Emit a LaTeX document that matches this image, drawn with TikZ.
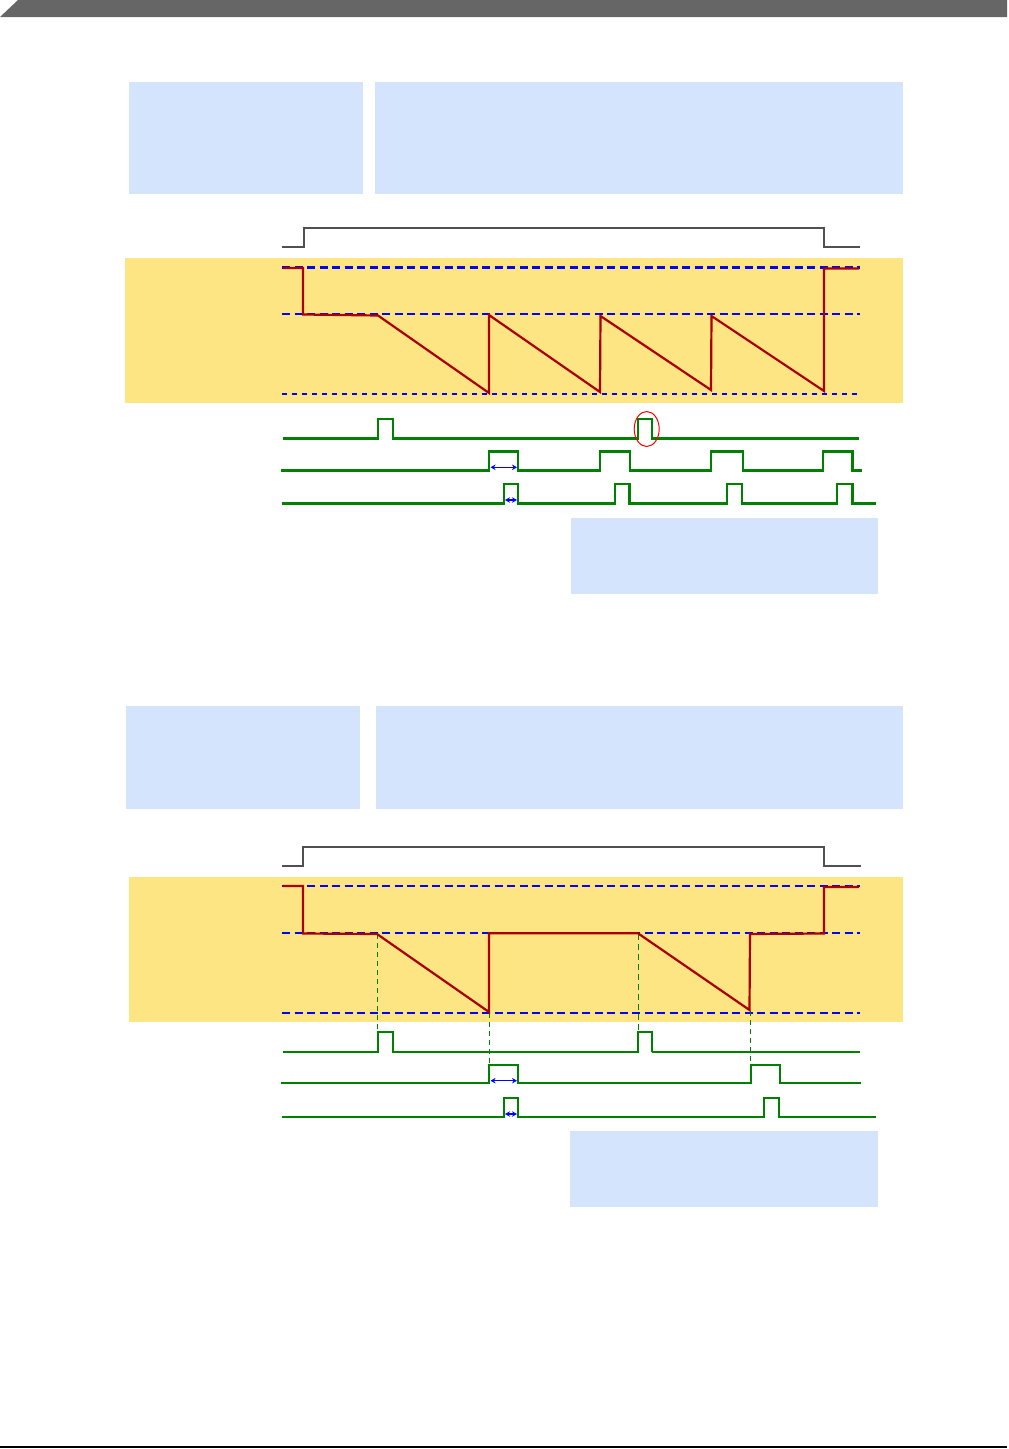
\documentclass[tikz,border=0pt]{standalone}
\usetikzlibrary{arrows.meta}
\definecolor{hdr}{HTML}{666666}
\definecolor{boxblue}{HTML}{D5E4FD}
\definecolor{band}{HTML}{FDE584}
\definecolor{wred}{HTML}{AA0000}
\definecolor{wgreen}{HTML}{008000}
\definecolor{gate}{HTML}{505050}
\tikzset{
  infobox/.style={fill=boxblue,draw=none},
  bandbox/.style={fill=band,draw=none},
  level/.style={draw=blue,line width=2.2pt,dash pattern=on 8pt off 4.5pt},
  levellow/.style={draw=blue,line width=1.4pt,dash pattern=on 5pt off 5pt},
  gatesig/.style={draw=gate,line width=2pt},
  vsig/.style={draw=wred,line width=2.2pt,line join=miter},
  pulse/.style={draw=wgreen,line width=2.2pt},
  pulsethin/.style={draw=wgreen,line width=1.3pt},
  guide/.style={draw=wgreen,line width=0.9pt,dash pattern=on 5pt off 4pt},
  guidebold/.style={draw=wgreen,line width=1.6pt,dash pattern=on 6pt off 4pt},
  dur/.style={draw=blue,line width=1.2pt,{Stealth[length=5pt,width=5.5pt]}-{Stealth[length=5pt,width=5.5pt]}},
}
\begin{document}
\begin{tikzpicture}[x=1pt,y=-1pt]
\useasboundingbox (0,0) rectangle (1009,1449);
% header bar and footer rule
\fill[hdr] (0,17) -- (18,0) -- (1007,0) -- (1007,17) -- cycle;
\draw[black,line width=2pt] (0,1447) -- (1007,1447);

% ================= upper diagram =================
\path[infobox] (129,82) rectangle (363,194);
\path[infobox] (375,82) rectangle (903,194);
\path[bandbox] (125,258) rectangle (903,403);
\path[infobox] (571,518) rectangle (878,594);

\draw[gatesig] (282,247) -- (303.5,247) -- (303.5,228) -- (824,228) -- (824,247) -- (860,247);

\draw[level] (282,267.5) -- (860,267.5);
\draw[level] (282,314) -- (860,314);
\draw[levellow] (282,394) -- (860,394);

\draw[vsig] (283,268) -- (303,268) -- (303,314.5) -- (378,315.5) -- (489,393)
  -- (489,315) -- (600,392) -- (600.5,316) -- (711,390) -- (711.5,316)
  -- (824,391) -- (824,268.5) -- (859,268.5);

\draw[pulse] (283,438.5) -- (378,438.5) -- (378,419) -- (393,419) -- (393,438.5)
  -- (638,438.5) -- (638,419) -- (652,419) -- (652,438.5) -- (859,438.5);
\draw[red,line width=1pt] (646.7,429) ellipse [x radius=12.5, y radius=17.5];

\draw[pulse] (281,470.5) -- (489.3,470.5) -- (489.3,451.5) -- (518.3,451.5) -- (518.3,470.5)
  -- (600,470.5) -- (600,451.5) -- (630,451.5) -- (630,470.5)
  -- (711,470.5) -- (711,451.5) -- (743,451.5) -- (743,470.5)
  -- (823,470.5) -- (823,451.5) -- (852.5,451.5) -- (852.5,470.5) -- (861.5,470.5);
\draw[dur] (490.5,467.3) -- (517,467.3);

\draw[pulse] (282,503.5) -- (503.7,503.5) -- (503.7,484.3) -- (518.3,484.3) -- (518.3,503.5)
  -- (615,503.5) -- (615,484.3) -- (629.5,484.3) -- (629.5,503.5)
  -- (727,503.5) -- (727,484.3) -- (742,484.3) -- (742,503.5)
  -- (837.3,503.5) -- (837.3,484.3) -- (852.5,484.3) -- (852.5,503.5) -- (876,503.5);
\draw[dur] (505,500) -- (517,500);

% ================= lower diagram =================
\path[infobox] (126,706) rectangle (360,809);
\path[infobox] (376,706) rectangle (903,809);
\path[bandbox] (129,877) rectangle (903,1022);
\path[infobox] (570,1131) rectangle (878,1207);

\draw[gatesig] (282,866.3) -- (303.3,866.3) -- (303.3,846.7) -- (824,846.7) -- (824,866.3) -- (860.5,866.3);

\draw[level] (282,886) -- (860,886);
\draw[level] (282,933) -- (860,933);
\draw[level] (282,1013) -- (860,1013);

% guide lines
\draw[guide] (377.3,934) -- (377.3,1031);
\draw[guide] (489.3,1013) -- (489.3,1063);
\draw[guidebold] (638.3,934) -- (638.3,1031);
\draw[guide] (750.7,1011) -- (750.7,1064);

\draw[vsig] (283,886) -- (303,886) -- (303,933.5) -- (377,934) -- (489,1012)
  -- (489,933.3) -- (638,933.3) -- (749.5,1010) -- (750,934) -- (824,933.5)
  -- (824,887) -- (859,887);

\draw[pulse] (283,1052) -- (377.7,1052) -- (377.7,1032) -- (393.3,1032) -- (393.3,1052)
  -- (638.3,1052) -- (638.3,1032) -- (652,1032) -- (652,1052);
\draw[pulsethin] (652,1052) -- (860,1052);

\draw[pulse] (281,1083.3) -- (489.3,1083.3) -- (489.3,1064.7) -- (518.3,1064.7) -- (518.3,1083.3)
  -- (750.7,1083.3) -- (750.7,1064.7) -- (780,1064.7) -- (780,1083.3) -- (860.5,1083.3);
\draw[dur] (490.5,1080.7) -- (517,1080.7);

\draw[pulse] (282,1116.7) -- (503.7,1116.7) -- (503.7,1097.7) -- (518.3,1097.7) -- (518.3,1116.7)
  -- (764.3,1116.7) -- (764.3,1097.7) -- (779.3,1097.7) -- (779.3,1116.7) -- (876,1116.7);
\draw[dur] (505,1114) -- (517,1114);
\end{tikzpicture}
\end{document}
